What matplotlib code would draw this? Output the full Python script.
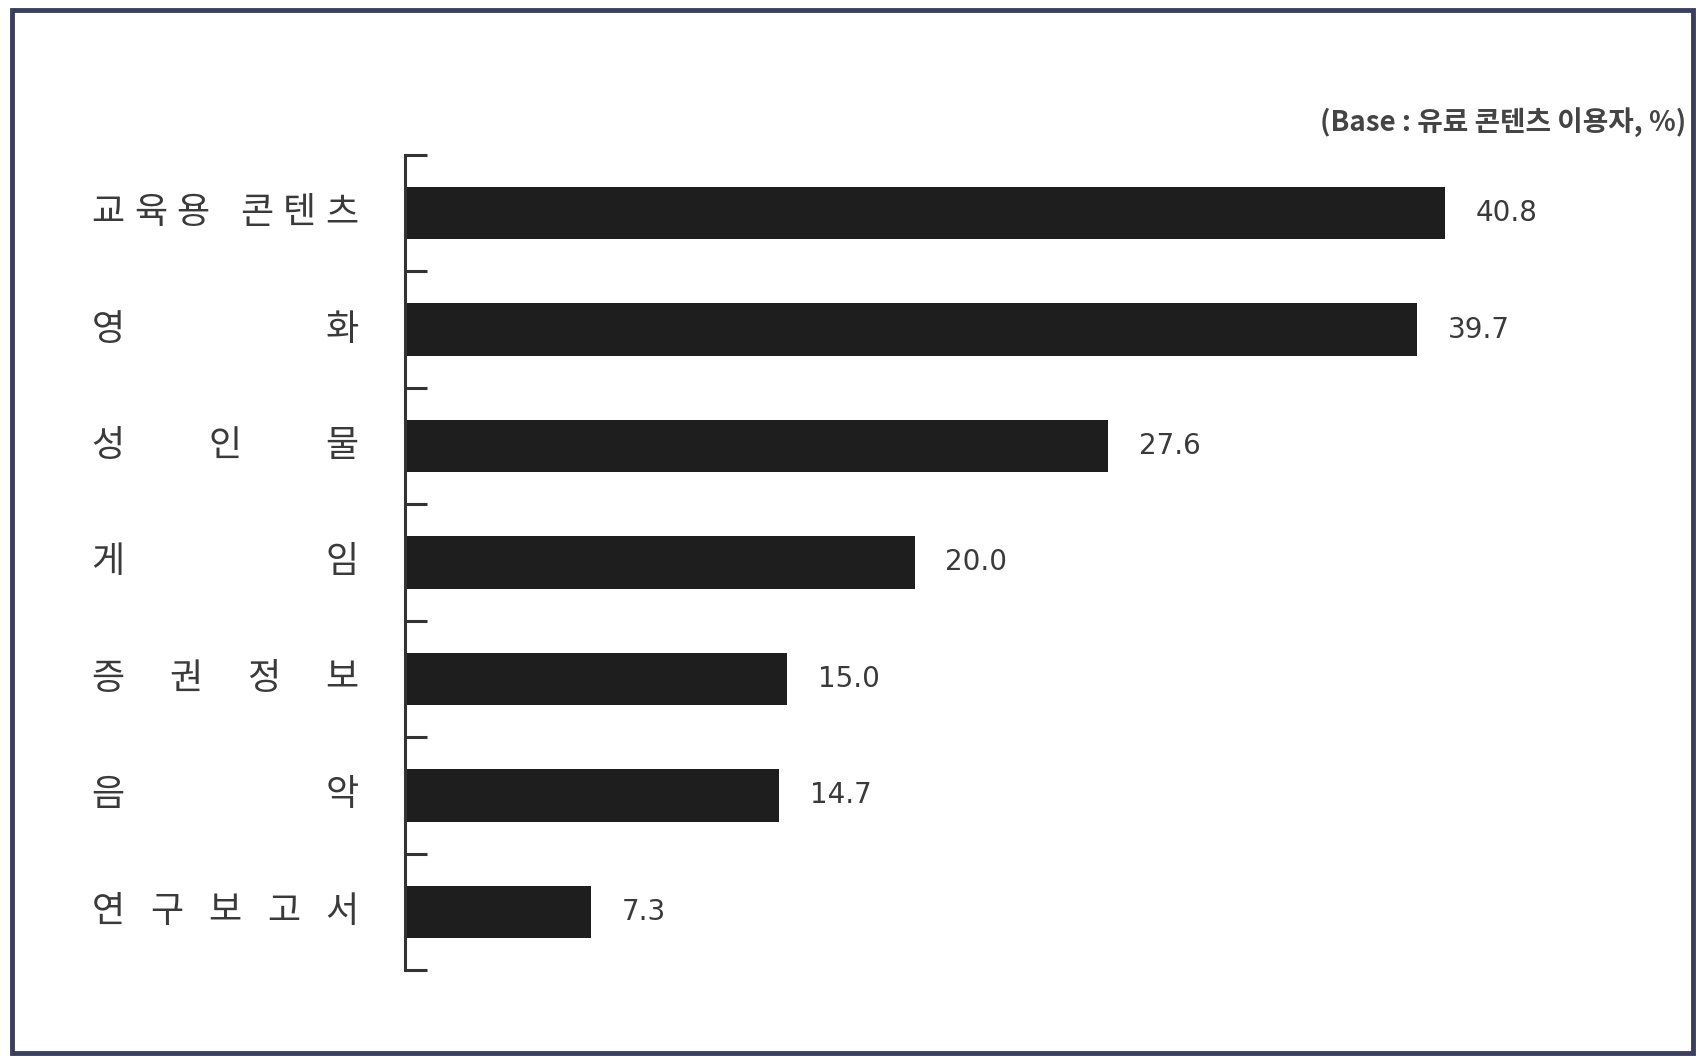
import numpy as np
import matplotlib.pyplot as plt
from matplotlib.patches import Rectangle
import matplotlib.transforms as mtransforms

plt.rcParams['font.family'] = ['Noto Sans CJK KR', 'DejaVu Sans']

categories = ['교육용 콘텐츠', '영화', '성인물', '게임', '증권정보', '음악', '연구보고서']
values = [40.8, 39.7, 27.6, 20.0, 15.0, 14.7, 7.3]
value_labels = ['40.8', '39.7', '27.6', '20.0', '15.0', '14.7', '7.3']
note = '(Base : 유료 콘텐츠 이용자, %)'

fig = plt.figure(figsize=(17, 10.57), dpi=100)
ax = fig.add_axes([0.238, 0.0823, 0.75, 0.7711])

y = np.arange(len(categories))
ax.barh(y, values, height=0.45, color='#1e1e1e')

ax.set_xlim(0, 50)
ax.set_ylim(len(categories) - 0.5, -0.5)

for s in ['top', 'right', 'bottom']:
    ax.spines[s].set_visible(False)
ax.spines['left'].set_color('#333333')
ax.spines['left'].set_linewidth(2.2)

ax.set_xticks([])
ax.set_yticks(np.arange(len(categories) + 1) - 0.5)
ax.set_yticklabels([])
ax.tick_params(axis='y', direction='in', length=16, width=2.2, color='#333333')

for yi, v, lab in zip(y, values, value_labels):
    ax.annotate(lab, (v, yi), xytext=(22, 0), textcoords='offset points',
                va='center', ha='left', fontsize=20, color='#3a3a3a',
                family='DejaVu Sans')

# justified category labels (a space takes half a slot)
trans = mtransforms.blended_transform_factory(fig.transFigure, ax.transData)
x0, x1 = 108 / 1700, 342 / 1700
for yi, name in zip(y, categories):
    pos = []
    p = 0.0
    for i, ch in enumerate(name):
        if ch == ' ':
            p += 0.5
            continue
        if pos:
            p += 1.0
        pos.append((p, ch))
    total = pos[-1][0]
    for p, ch in pos:
        xc = x0 + (x1 - x0) * p / total
        ax.text(xc, yi, ch, transform=trans, ha='center', va='center',
                fontsize=26, fontweight='medium', color='#3a3a3a',
                clip_on=False)

fig.text(1686 / 1700, 1 - 122 / 1057, note, ha='right', va='center',
         fontsize=20, fontweight='bold', color='#444444')

fig.patches.append(Rectangle((12 / 1700, 4 / 1057), 1681 / 1700, 1043 / 1057,
                             transform=fig.transFigure, fill=False,
                             edgecolor='#3b3f5e', linewidth=3.5))

fig.savefig('out.png', dpi=100)
